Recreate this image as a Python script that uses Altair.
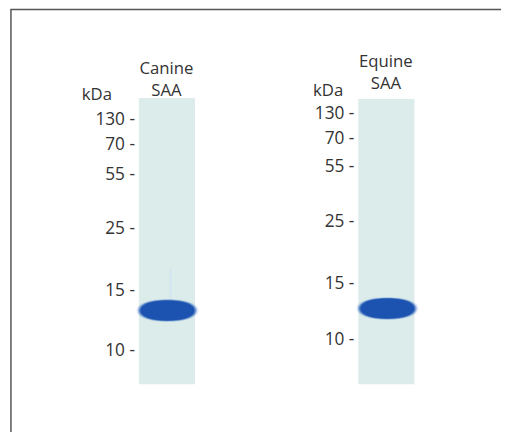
import altair as alt
import pandas as pd

# ---- data (page-pixel units of the gel image) ----
lane_names = ["Canine", "Equine"]
lane_left = [141, 364]
lane_right = [198, 421]
lane_top = [96, 97]
lane_bottom = [387, 387]

band_left = [142, 366]
band_right = [198, 421]
band_center_y = [312, 310]

marker_kda = ["130", "70", "55", "25", "15", "10"]
canine_marker_pos = [118, 144, 174, 229, 292, 353]
equine_marker_pos = [112, 138, 166, 222, 285, 342]
label_right_edge = [137, 360]

header_x = [169, 392]
header_line1_y = [72, 65]
header_line2_y = [94, 87]
kda_x = [83, 318]
kda_y = [98, 94]

# ---- tables ----
lanes = pd.DataFrame({"lane": lane_names, "x": lane_left, "x2": lane_right,
                      "y": lane_top, "y2": lane_bottom})
bands = pd.DataFrame({"lane": lane_names,
                      "cx": [(a + b) / 2 for a, b in zip(band_left, band_right)],
                      "cy": band_center_y})
markers = pd.DataFrame({
    "label": [k + " -" for k in marker_kda] * 2,
    "x": [label_right_edge[0]] * 6 + [label_right_edge[1]] * 6,
    "y": canine_marker_pos + equine_marker_pos,
})
headers = pd.DataFrame({
    "text": lane_names + ["SAA", "SAA"],
    "x": header_x + header_x,
    "y": header_line1_y + header_line2_y,
})
kda = pd.DataFrame({"text": ["kDa", "kDa"], "x": kda_x, "y": kda_y})
frame = pd.DataFrame({"x": [11], "x2": [530], "y": [6], "y2": [460]})
streak = pd.DataFrame({"x": [172], "x2": [174.5], "y": [270], "y2": [302]})

xs = alt.Scale(domain=[8, 509], nice=False, zero=False)
ys = alt.Scale(domain=[8, 432], nice=False, zero=False, reverse=True)
X = lambda f="x": alt.X(f"{f}:Q", scale=xs, axis=None)
Y = lambda f="y": alt.Y(f"{f}:Q", scale=ys, axis=None)

FONT = "Open Sans"
TXT = "#333333"
FS = 17.5
FS_HEAD = 17

# rounded elliptical band outline in unit coordinates (Vega scales custom paths by sqrt(size)/2)
ELLIPSE = ("M -1 0 C -1 -0.22 -0.62 -0.37 0 -0.37 C 0.62 -0.37 1 -0.22 1 0 "
           "C 1 0.22 0.62 0.37 0 0.37 C -0.62 0.37 -1 0.22 -1 0 Z")

frame_l = alt.Chart(frame).mark_rect(fill=None, stroke="#555555", strokeWidth=1.5).encode(
    x=X(), x2="x2:Q", y=Y(), y2="y2:Q")

lane_l = alt.Chart(lanes).mark_rect(color="#dcecea").encode(
    x=X(), x2="x2:Q", y=Y(), y2="y2:Q")

streak_l = alt.Chart(streak).mark_rect(color="#cfe2f0", opacity=0.6, cornerRadius=1.2).encode(
    x=X(), x2="x2:Q", y=Y(), y2="y2:Q")

def band_layer(size, opacity, color):
    return alt.Chart(bands).mark_point(shape=ELLIPSE, filled=True, size=size, opacity=opacity,
                                       color=color, strokeWidth=0).encode(
        x=X("cx"), y=Y("cy"))

halo3 = band_layer(3950, 0.18, "#4a7fcf")
halo2 = band_layer(3600, 0.35, "#3569c0")
halo1 = band_layer(3300, 0.6, "#255bb7")
core = band_layer(3000, 1.0, "#1d53b0")

marker_l = alt.Chart(markers).mark_text(font=FONT, fontSize=FS, color=TXT, align="right",
                                        baseline="middle").encode(
    x=X(), y=Y(), text="label:N")
header_l = alt.Chart(headers).mark_text(font=FONT, fontSize=FS_HEAD, color=TXT, align="center",
                                        baseline="alphabetic").encode(
    x=X(), y=Y(), text="text:N")
kda_l = alt.Chart(kda).mark_text(font=FONT, fontSize=FS_HEAD, color=TXT, align="left",
                                 baseline="alphabetic").encode(
    x=X(), y=Y(), text="text:N")

chart = alt.layer(frame_l, lane_l, streak_l, halo3, halo2, halo1, core,
                  marker_l, header_l, kda_l).properties(
    width=501, height=424, padding=0, autosize=alt.AutoSizeParams(type="none"),
    background="white"
).configure_view(stroke=None)

chart.save("out.html", embed_options={"renderer": "svg", "actions": False})
